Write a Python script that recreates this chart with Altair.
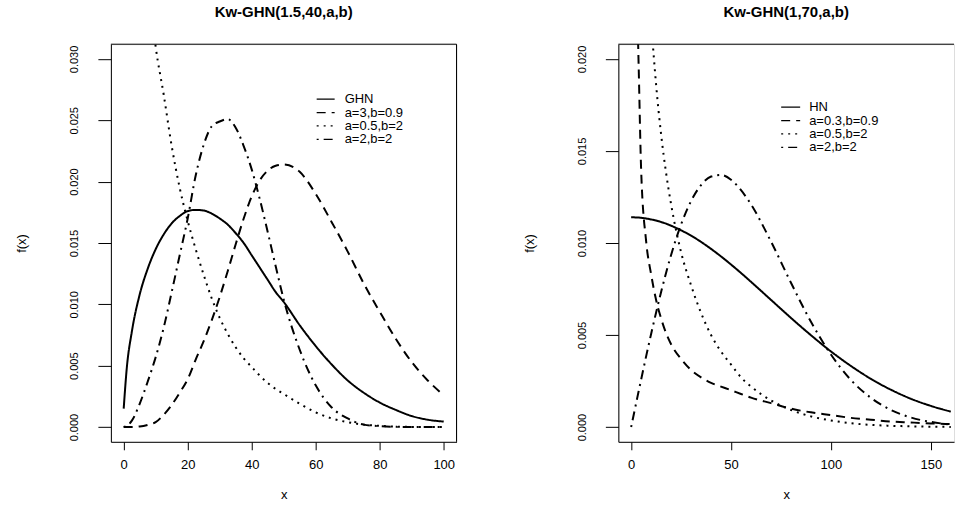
import altair as alt
import pandas as pd

FONT = "Liberation Sans"

# ---------------- Left panel: Kw-GHN(1.5,40,a,b) ----------------
x_left = [0, 1, 2.5, 5, 7.5, 10, 12.5, 15, 17.5, 20, 22.5, 25, 27.5, 30, 32.5, 35,
          37.5, 40, 42.5, 45, 47.5, 50, 55, 60, 65, 70, 75, 80, 85, 90, 95, 100]
ghn_left = [0.0015, 0.0049, 0.0077, 0.0108, 0.0129, 0.0145, 0.0157, 0.0166, 0.0172,
            0.0176, 0.0177, 0.01765, 0.0174, 0.0170, 0.0165, 0.0158, 0.0150, 0.0140,
            0.0130, 0.0120, 0.0110, 0.0102, 0.0083, 0.0066, 0.0051, 0.0038, 0.0028,
            0.0020, 0.0014, 0.0009, 0.0006, 0.00045]
a3_b09_left = [0, 0, 0.00001, 0.00005, 0.00018, 0.0004, 0.0010, 0.0018, 0.0028, 0.0039,
               0.0055, 0.0070, 0.0087, 0.0106, 0.0127, 0.0149, 0.0170, 0.0188, 0.0201,
               0.0209, 0.0213, 0.0214, 0.0208, 0.0190, 0.0167, 0.0143, 0.0117, 0.0094,
               0.0072, 0.0053, 0.0038, 0.0026]
a05_b2_left = [None, 0.12, 0.075, 0.047, 0.037, 0.031, 0.0271, 0.0229, 0.0195, 0.0168,
               0.0145, 0.0124, 0.0105, 0.0089, 0.0076, 0.0065, 0.0056, 0.0049, 0.0042,
               0.0036, 0.0031, 0.0027, 0.0019, 0.0012, 0.0007, 0.0004, 0.0002, 0.0001,
               0.00004, 0.00001, 0.0, 0.0]
a2_b2_left = [0, 0.0001, 0.0005, 0.0019, 0.0037, 0.0057, 0.0081, 0.0110, 0.0140, 0.0170,
              0.0205, 0.0230, 0.0245, 0.0249, 0.0251, 0.0244, 0.0229, 0.0210, 0.0186,
              0.0159, 0.0131, 0.0104, 0.0063, 0.0034, 0.0016, 0.0007, 0.0002, 0.00008,
              0.00002, 0, 0, 0]
labels_left = ["GHN", "a=3,b=0.9", "a=0.5,b=2", "a=2,b=2"]
xticks_left = [0, 20, 40, 60, 80, 100]
yticks_left = [0.000, 0.005, 0.010, 0.015, 0.020, 0.025, 0.030]

# ---------------- Right panel: Kw-GHN(1,70,a,b) ----------------
x_right = [0, 1, 2, 3, 4, 5, 7.5, 10, 12.5, 15, 17.5, 20, 25, 30, 35, 40, 45, 50, 55,
           60, 70, 80, 90, 100, 110, 120, 130, 140, 150, 160]
hn_right = [0.01140, 0.01140, 0.01139, 0.01139, 0.01138, 0.01137, 0.01133, 0.01128,
            0.01122, 0.01114, 0.01105, 0.01094, 0.01069, 0.01040, 0.01006, 0.00968,
            0.00927, 0.00883, 0.00837, 0.00789, 0.00691, 0.00593, 0.00499, 0.00411,
            0.00332, 0.00262, 0.00203, 0.00154, 0.00115, 0.00084]
a03_b09_right = [None, 0.065, 0.035, 0.0240, 0.0185, 0.0140, 0.0101, 0.0083, 0.0069,
                 0.0059, 0.0051, 0.0045, 0.0037, 0.0031, 0.0027, 0.0024, 0.0022, 0.0020,
                 0.0018, 0.0016, 0.0013, 0.0010, 0.0008, 0.00065, 0.0005, 0.0004,
                 0.0003, 0.00025, 0.0002, 0.00016]
a05_b2_right = [None, 0.0954, 0.0641, 0.0502, 0.0419, 0.0363, 0.0275, 0.0222, 0.0186,
                0.0159, 0.0138, 0.0121, 0.0095, 0.0077, 0.0062, 0.0050, 0.0041, 0.0034,
                0.0027, 0.0022, 0.00145, 0.00093, 0.00058, 0.00036, 0.00021, 0.00012,
                0.00007, 0.00004, 0.00002, 0.00001]
a2_b2_right = [0, 0.00052, 0.00104, 0.00156, 0.00207, 0.00258, 0.00384, 0.00506, 0.00623,
               0.00734, 0.00839, 0.00935, 0.01101, 0.01228, 0.01315, 0.01361, 0.01370,
               0.01344, 0.01287, 0.01210, 0.01008, 0.00784, 0.00572, 0.00394, 0.00256,
               0.00159, 0.00093, 0.00052, 0.00028, 0.00014]
labels_right = ["HN", "a=0.3,b=0.9", "a=0.5,b=2", "a=2,b=2"]
xticks_right = [0, 50, 100, 150]
yticks_right = [0.000, 0.005, 0.010, 0.015, 0.020]

dash_styles = [[1, 0], [9, 6], [2, 5], [2, 5, 9, 5]]

PW, PH = 346, 398
RW = 336


def make_df(x, series_list, labels):
    rows = []
    for lab, vals in zip(labels, series_list):
        for xi, yi in zip(x, vals):
            if yi is not None:
                rows.append({"x": xi, "y": yi, "series": lab})
    return pd.DataFrame(rows)


def panel(df, labels, title, xdom, ydom, xticks, yticks, w, h, leg, right_border):
    common = dict(labelFont=FONT, titleFont=FONT, labelColor="black", titleColor="black",
                  tickColor="black", domainColor="black", grid=False,
                  titleFontWeight="normal", labelFlush=False, labelOverlap=False)
    xenc = alt.X("x:Q", scale=alt.Scale(domain=xdom, nice=False, zero=False),
                 axis=alt.Axis(values=xticks, title="x", format="d", labelFontSize=13,
                               titleFontSize=13, tickSize=8, labelPadding=9,
                               titlePadding=17, **common))
    yenc = alt.Y("y:Q", scale=alt.Scale(domain=ydom, nice=False, zero=False),
                 axis=alt.Axis(values=yticks, format=".3f", title="f(x)",
                               labelFontSize=11, titleFontSize=13, tickSize=13,
                               labelAngle=270, labelAlign="center",
                               labelBaseline="bottom", labelPadding=18,
                               titlePadding=40, **common))
    lines = alt.Chart(df).mark_line(
        clip=True, color="black", strokeWidth=2, interpolate="monotone"
    ).encode(
        x=xenc, y=yenc,
        strokeDash=alt.StrokeDash("series:N",
                                  scale=alt.Scale(domain=labels, range=dash_styles),
                                  legend=None),
    )
    one = alt.Chart(pd.DataFrame({"k": [0]}))
    layers = [lines,
              one.mark_rule(color="black", strokeWidth=1).encode(
                  x=alt.value(0), x2=alt.value(w), y=alt.value(0))]
    if right_border:
        layers.append(one.mark_rule(color="black", strokeWidth=1).encode(
            x=alt.value(w), y=alt.value(0), y2=alt.value(h)))
    lx0, lx1, tx, ly0, dy = leg
    for i, (lab, dash) in enumerate(zip(labels, dash_styles)):
        yy = ly0 + i * dy
        layers.append(one.mark_rule(color="black", strokeWidth=1.2, strokeDash=dash).encode(
            x=alt.value(lx0), x2=alt.value(lx1), y=alt.value(yy)))
        layers.append(one.mark_text(align="left", baseline="middle", font=FONT,
                                    fontSize=13, color="black").encode(
            x=alt.value(tx), y=alt.value(yy), text=alt.value(lab)))
    return alt.layer(*layers).properties(
        width=w, height=h,
        title=alt.TitleParams(title, font=FONT, fontSize=15, fontWeight="bold",
                              anchor="middle", offset=24, color="black"),
    )


df_left = make_df(x_left, [ghn_left, a3_b09_left, a05_b2_left, a2_b2_left], labels_left)
df_right = make_df(x_right, [hn_right, a03_b09_right, a05_b2_right, a2_b2_right], labels_right)

left = panel(df_left, labels_left, "Kw-GHN(1.5,40,a,b)", [-4, 104], [-0.0012, 0.0312],
             xticks_left, yticks_left, PW, PH, (206, 224, 234, 55, 13.4), True)
right = panel(df_right, labels_right, "Kw-GHN(1,70,a,b)", [-6.4, 161.6], [-0.0008, 0.0208],
              xticks_right, yticks_right, RW, PH, (163, 182, 191, 63, 13.4), False)

chart = alt.hconcat(left, right, spacing=162, bounds="flush").properties(
    padding={"left": 15, "top": 4, "right": 0, "bottom": 0}
).configure_view(stroke=None).configure(background="white")

chart.save("out.html", embed_options={"renderer": "svg", "actions": False})
